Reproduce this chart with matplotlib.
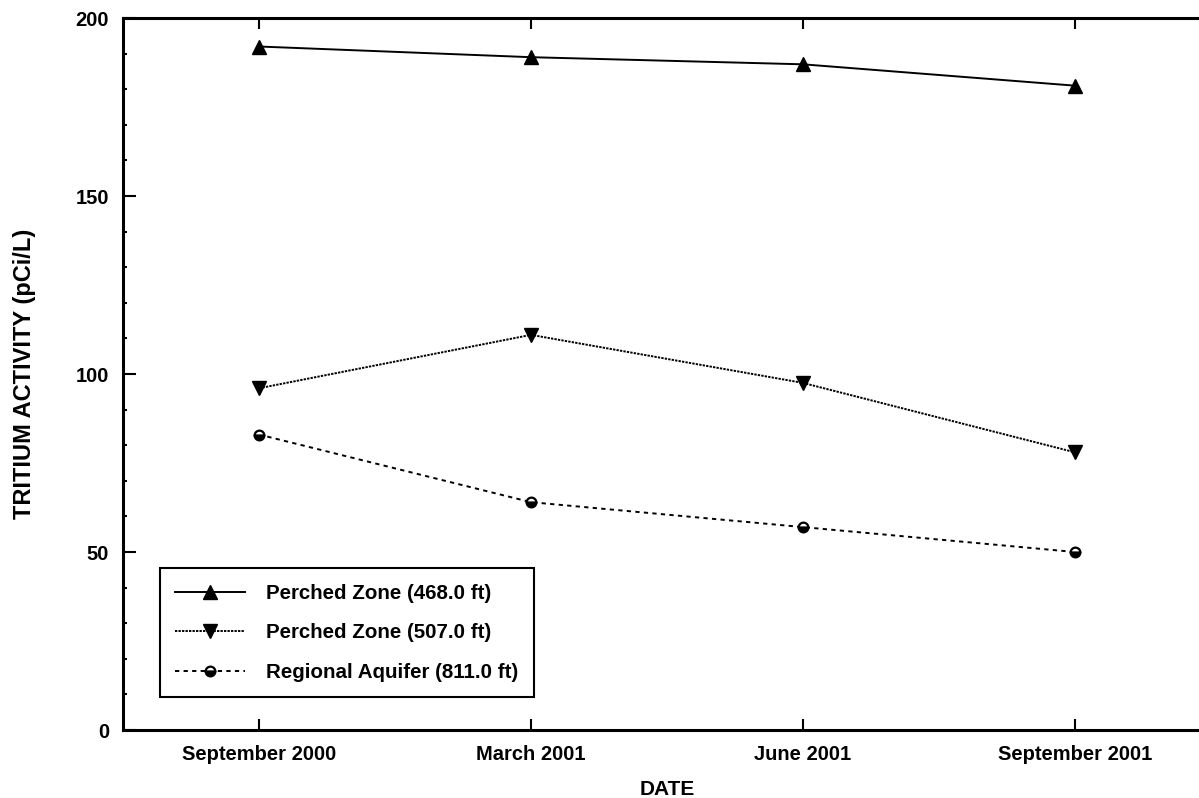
import numpy as np
import matplotlib.pyplot as plt
from matplotlib.ticker import MultipleLocator

plt.rcParams['font.family'] = ['Liberation Sans', 'DejaVu Sans']
plt.rcParams['font.weight'] = 'bold'

# sampling dates and tritium results (pCi/L)
dates = ['September 2000', 'March 2001', 'June 2001', 'September 2001']
perched_468 = [192, 189, 187, 181]
perched_507 = [96, 111, 97.5, 78]
regional_811 = [83, 64, 57, 50]

x = np.arange(len(dates))

fig = plt.figure(figsize=(11.99, 7.98), dpi=100)
ax = fig.add_axes([0.1026, 0.0852, 0.9074, 0.8922])

ax.plot(x, perched_468, color='black', lw=1.4, ls='-', marker='^', ms=10,
        label='Perched Zone (468.0 ft)')
ax.plot(x, perched_507, color='black', lw=1.4, ls=(0, (1.2, 0.6)), marker='v', ms=10,
        label='Perched Zone (507.0 ft)')
ax.plot(x, regional_811, color='black', lw=1.4, ls=(0, (2.2, 2.2)), marker='o', ms=7,
        mfc='black', mfcalt='white', fillstyle='bottom', mew=1.6,
        label='Regional Aquifer (811.0 ft)')

ax.set_xlim(-0.5, 3.5)
ax.set_ylim(0, 200)
ax.set_xticks(x)
ax.set_xticklabels(dates)
ax.yaxis.set_major_locator(MultipleLocator(50))
ax.yaxis.set_minor_locator(MultipleLocator(10))
ax.tick_params(axis='x', direction='in', length=8, width=1.5, top=True,
               labelsize=14.5, pad=11)
ax.tick_params(axis='y', which='major', direction='in', length=9, width=1.5,
               labelsize=14.5, pad=10)
ax.tick_params(axis='y', which='minor', direction='in', length=3, width=1.5)
for side in ['left', 'top', 'bottom']:
    ax.spines[side].set_linewidth(2.2)
ax.spines['right'].set_visible(False)

ax.set_xlabel('DATE', fontsize=15, fontweight='bold', labelpad=11)
ax.set_ylabel('TRITIUM ACTIVITY (pCi/L)', fontsize=17, fontweight='bold')
ax.yaxis.set_label_coords(-0.080, 0.5)

leg = ax.legend(loc='lower left', bbox_to_anchor=(0.034, 0.046), fontsize=14.8,
                frameon=True, fancybox=False, edgecolor='black', framealpha=1,
                handlelength=3.4, handletextpad=1.0, labelspacing=1.0,
                borderpad=0.75, borderaxespad=0)
leg.get_frame().set_linewidth(1.5)
for t in leg.get_texts():
    t.set_fontweight('bold')

fig.savefig('out.png', dpi=100)
